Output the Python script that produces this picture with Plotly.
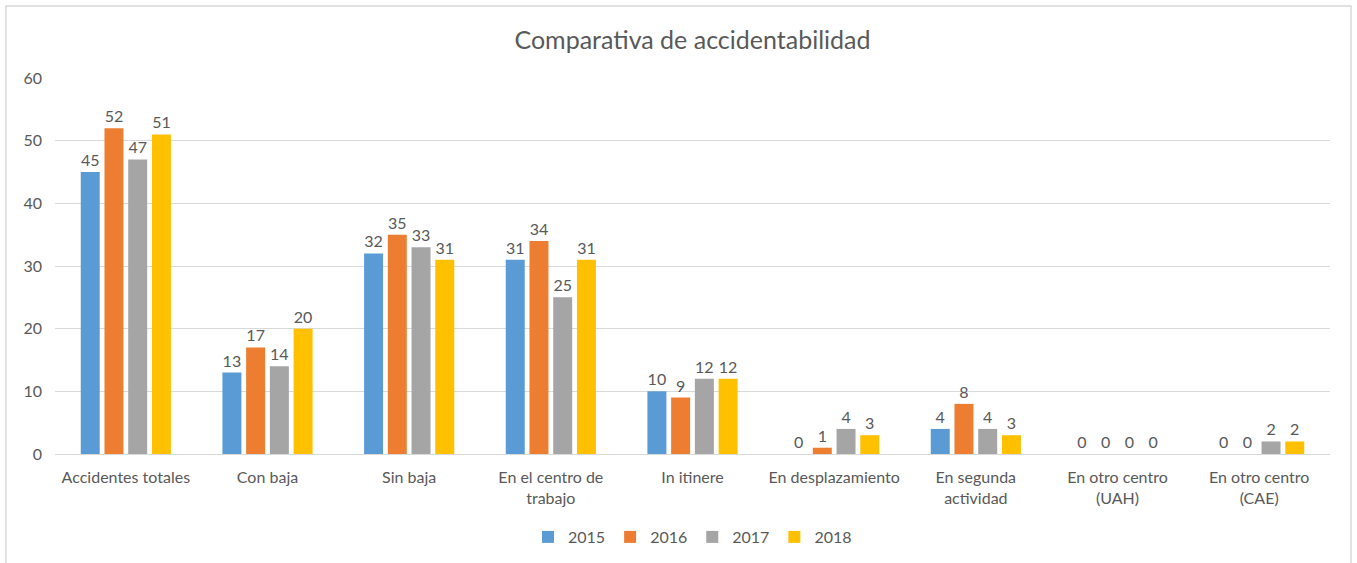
import plotly.graph_objects as go

categories = ["Accidentes totales", "Con baja", "Sin baja", "En el centro de<br>trabajo",
              "In itinere", "En desplazamiento", "En segunda<br>actividad",
              "En otro centro<br>(UAH)", "En otro centro<br>(CAE)"]
years = ["2015", "2016", "2017", "2018"]
v2015 = [45, 13, 32, 31, 10, 0, 4, 0, 0]
v2016 = [52, 17, 35, 34, 9, 1, 8, 0, 0]
v2017 = [47, 14, 33, 25, 12, 4, 4, 0, 2]
v2018 = [51, 20, 31, 31, 12, 3, 3, 0, 2]
colors = ["#5B9BD5", "#ED7D31", "#A5A5A5", "#FFC000"]
yticks = [0, 10, 20, 30, 40, 50, 60]

FONT = "Lato, 'Open Sans', sans-serif"
TXT = "#595959"

W, H = 1357, 563
ml, mr, mt, mb = 55, 27, 78, 109
pw, ph = W - ml - mr, H - mt - mb

fig = go.Figure()
for name, vals, c in zip(years, [v2015, v2016, v2017, v2018], colors):
    fig.add_trace(go.Bar(
        name=name, x=categories, y=vals, marker_color=c, marker_line_width=0,
        text=vals, textposition="outside", cliponaxis=False,
        textfont=dict(family=FONT, size=16, color=TXT),
    ))

# chart border
fig.add_shape(type="rect", xref="paper", yref="paper",
              x0=(6 - ml) / pw, x1=(1351 - ml) / pw,
              y0=-(H + 20 - mt - ph) / ph,
              y1=1 + (mt - 6) / ph,
              line=dict(color="#D9D9D9", width=1.5), layer="below")

fig.update_layout(
    width=W, height=H,
    margin=dict(l=ml, r=mr, t=mt, b=mb, autoexpand=False),
    paper_bgcolor="white", plot_bgcolor="white",
    barmode="group", bargap=0.33, bargroupgap=0.2,
    title=dict(text="Comparativa de accidentabilidad", x=0.5, xanchor="center",
               xref="paper", yref="container", y=1 - 40 / H, yanchor="middle",
               font=dict(family=FONT, size=25, color=TXT)),
    font=dict(family=FONT, color=TXT, size=16),
    legend=dict(orientation="h", x=0.5, xanchor="center", xref="paper",
                yref="container", y=1 - 537 / H,
                yanchor="middle", font=dict(size=16, color=TXT), traceorder="normal"),
    xaxis=dict(showline=True, linecolor="#D9D9D9", linewidth=1, ticks="",
               tickfont=dict(size=16, color=TXT), showgrid=False, automargin=False,
               ticklabelstandoff=9),
    yaxis=dict(range=[0, 60], tickvals=yticks, showgrid=True, gridcolor="#D9D9D9",
               gridwidth=1, zeroline=False, showline=False, ticks="",
               tickfont=dict(size=16, color=TXT), ticklabelstandoff=12, automargin=False),
)
fig.write_html("out.html", config={"displayModeBar": False},
               post_script="document.body.style.margin='0';document.body.style.overflow='hidden';")
